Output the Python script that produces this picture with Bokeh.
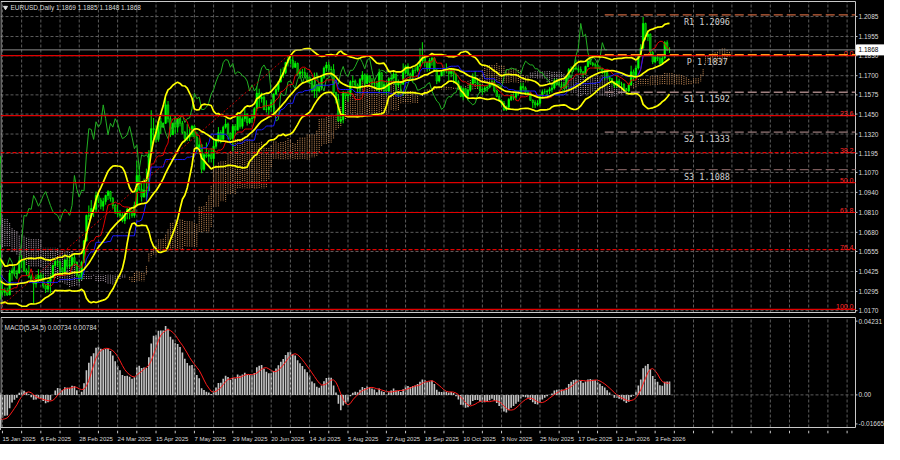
import numpy as np
import pandas as pd
from bokeh.plotting import figure
from bokeh.layouts import column
from bokeh.models import Range1d, ColumnDataSource
from bokeh.core.properties import value
from bokeh.embed import file_html
from bokeh.resources import INLINE

# ---------------- data ----------------
# warm-up bars before the first visible bar (25 Sep 2024 .. 14 Jan 2025)
pre_close = [1.1135, 1.1175, 1.1165, 1.1135, 1.1070, 1.1045, 1.1030, 1.0975,
             1.0975, 1.0980, 1.0940, 1.0935, 1.0935, 1.0910, 1.0890, 1.0860, 1.0830, 1.0865,
             1.0815, 1.0795, 1.0780, 1.0825, 1.0795, 1.0815, 1.0815, 1.0855, 1.0885,
             1.0835, 1.0880, 1.0930, 1.0730, 1.0800, 1.0720, 1.0655, 1.0625, 1.0565, 1.0530, 1.0540,
             1.0595, 1.0595, 1.0545, 1.0470, 1.0420, 1.0495, 1.0490, 1.0565, 1.0555, 1.0575,
             1.0495, 1.0510, 1.0510, 1.0585, 1.0565, 1.0555, 1.0525, 1.0495, 1.0465, 1.0500,
             1.0510, 1.0490, 1.0350, 1.0365, 1.0430, 1.0405, 1.0395, 1.0420, 1.0425,
             1.0405, 1.0355, 1.0265, 1.0305, 1.0390, 1.0345, 1.0320, 1.0300, 1.0245, 1.0245, 1.0305]
pre_high = [1.1215, 1.1190, 1.1200, 1.1210, 1.1145, 1.1085, 1.1055, 1.1045,
            1.0985, 1.0995, 1.0985, 1.0960, 1.0955, 1.0945, 1.0915, 1.0900, 1.0870, 1.0870,
            1.0865, 1.0825, 1.0800, 1.0830, 1.0835, 1.0825, 1.0830, 1.0870, 1.0890,
            1.0905, 1.0905, 1.0935, 1.0935, 1.0805, 1.0805, 1.0725, 1.0665, 1.0650, 1.0580, 1.0560,
            1.0610, 1.0630, 1.0610, 1.0545, 1.0495, 1.0535, 1.0510, 1.0575, 1.0570, 1.0595,
            1.0555, 1.0535, 1.0545, 1.0590, 1.0630, 1.0595, 1.0565, 1.0535, 1.0520, 1.0520,
            1.0525, 1.0525, 1.0505, 1.0395, 1.0445, 1.0445, 1.0420, 1.0440, 1.0455,
            1.0445, 1.0415, 1.0365, 1.0320, 1.0435, 1.0405, 1.0355, 1.0330, 1.0325, 1.0270, 1.0315]
pre_low = [1.1125, 1.1115, 1.1135, 1.1130, 1.1045, 1.1030, 1.1005, 1.0950,
           1.0955, 1.0955, 1.0935, 1.0915, 1.0930, 1.0905, 1.0880, 1.0855, 1.0810, 1.0825,
           1.0810, 1.0790, 1.0760, 1.0775, 1.0790, 1.0790, 1.0770, 1.0810, 1.0840,
           1.0830, 1.0840, 1.0870, 1.0680, 1.0715, 1.0710, 1.0650, 1.0595, 1.0545, 1.0495, 1.0500,
           1.0520, 1.0525, 1.0540, 1.0460, 1.0335, 1.0425, 1.0445, 1.0480, 1.0540, 1.0535,
           1.0460, 1.0480, 1.0475, 1.0505, 1.0540, 1.0535, 1.0515, 1.0485, 1.0455, 1.0455,
           1.0480, 1.0475, 1.0345, 1.0345, 1.0345, 1.0395, 1.0385, 1.0380, 1.0395,
           1.0385, 1.0345, 1.0225, 1.0245, 1.0305, 1.0335, 1.0290, 1.0285, 1.0215, 1.0178, 1.0235]

# visible daily bars, 15 Jan 2025 .. 11 Feb 2026
close = [1.0290, 1.0300, 1.0272,
         1.0415, 1.0430, 1.0410, 1.0415, 1.0495,
         1.0490, 1.0430, 1.0420, 1.0390, 1.0360,
         1.0345, 1.0380, 1.0400, 1.0380, 1.0330,
         1.0310, 1.0360, 1.0385, 1.0465, 1.0490,
         1.0485, 1.0445, 1.0425, 1.0500, 1.0460,
         1.0465, 1.0515, 1.0485, 1.0400, 1.0375,
         1.0485, 1.0625, 1.0790, 1.0785, 1.0835,
         1.0830, 1.0920, 1.0890, 1.0850, 1.0880,
         1.0920, 1.0945, 1.0900, 1.0855, 1.0815,
         1.0800, 1.0790, 1.0755, 1.0800, 1.0830,
         1.0815, 1.0790, 1.0855, 1.1050, 1.0960,
         1.0910, 1.0955, 1.0950, 1.1190, 1.1355,
         1.1350, 1.1285, 1.1400, 1.1365, 1.1390,
         1.1510, 1.1420, 1.1315, 1.1390, 1.1365,
         1.1420, 1.1390, 1.1330, 1.1290, 1.1300,
         1.1315, 1.1370, 1.1300, 1.1225, 1.1250,
         1.1090, 1.1185, 1.1175, 1.1185, 1.1160,
         1.1240, 1.1285, 1.1330, 1.1285, 1.1365,
         1.1385, 1.1325, 1.1290, 1.1370, 1.1345,
         1.1440, 1.1370, 1.1420, 1.1445, 1.1395,
         1.1420, 1.1425, 1.1485, 1.1585, 1.1550,
         1.1560, 1.1480, 1.1480, 1.1495, 1.1525,
         1.1580, 1.1610, 1.1660, 1.1700, 1.1720,
         1.1785, 1.1805, 1.1800, 1.1755, 1.1780,
         1.1710, 1.1725, 1.1720, 1.1700, 1.1690,
         1.1665, 1.1600, 1.1640, 1.1600, 1.1625,
         1.1690, 1.1750, 1.1770, 1.1740, 1.1740,
         1.1590, 1.1545, 1.1405, 1.1415, 1.1590,
         1.1570, 1.1575, 1.1660, 1.1665, 1.1640,
         1.1615, 1.1675, 1.1705, 1.1650, 1.1700,
         1.1660, 1.1650, 1.1650, 1.1610, 1.1720,
         1.1620, 1.1640, 1.1600, 1.1680, 1.1685,
         1.1710, 1.1640, 1.1660, 1.1645, 1.1720,
         1.1760, 1.1710, 1.1695, 1.1735, 1.1735,
         1.1760, 1.1795, 1.1815, 1.1785, 1.1745,
         1.1800, 1.1815, 1.1735, 1.1665, 1.1700,
         1.1725, 1.1735, 1.1730, 1.1715, 1.1740,
         1.1710, 1.1660, 1.1630, 1.1565, 1.1615,
         1.1570, 1.1605, 1.1645, 1.1690, 1.1655,
         1.1645, 1.1605, 1.1610, 1.1620, 1.1625,
         1.1645, 1.1655, 1.1600, 1.1565, 1.1535,
         1.1520, 1.1480, 1.1495, 1.1545, 1.1565,
         1.1560, 1.1585, 1.1590, 1.1630, 1.1620,
         1.1590, 1.1580, 1.1540, 1.1525, 1.1510,
         1.1520, 1.1570, 1.1595, 1.1595, 1.1600,
         1.1610, 1.1620, 1.1665, 1.1645, 1.1640,
         1.1640, 1.1625, 1.1690, 1.1740, 1.1740,
         1.1750, 1.1745, 1.1740, 1.1725, 1.1710,
         1.1760, 1.1795, 1.1780, 1.1770,
         1.1770, 1.1745, 1.1745, 1.1720,
         1.1720, 1.1690, 1.1680, 1.1655, 1.1635,
         1.1665, 1.1645, 1.1645, 1.1610, 1.1600,
         1.1640, 1.1725, 1.1685, 1.1750, 1.1830,
         1.1880, 1.2040, 1.1955, 1.1970, 1.1850,
         1.1790, 1.1820, 1.1810, 1.1780, 1.1815,
         1.1915, 1.1869, 1.1868]
high = [1.0353, 1.0320, 1.0320,
        1.0435, 1.0445, 1.0460, 1.0435, 1.0520,
        1.0530, 1.0500, 1.0445, 1.0465, 1.0405,
        1.0360, 1.0405, 1.0440, 1.0420, 1.0410,
        1.0345, 1.0370, 1.0405, 1.0470, 1.0515,
        1.0505, 1.0495, 1.0455, 1.0505, 1.0530,
        1.0530, 1.0525, 1.0545, 1.0490, 1.0405,
        1.0495, 1.0630, 1.0795, 1.0855, 1.0890,
        1.0845, 1.0945, 1.0945, 1.0905, 1.0905,
        1.0925, 1.0955, 1.0950, 1.0910, 1.0865,
        1.0860, 1.0825, 1.0805, 1.0815, 1.0840,
        1.0845, 1.0820, 1.0880, 1.1145, 1.1110,
        1.1000, 1.1030, 1.1095, 1.1215, 1.1475,
        1.1425, 1.1375, 1.1405, 1.1425, 1.1395,
        1.1573, 1.1535, 1.1445, 1.1395, 1.1400,
        1.1425, 1.1425, 1.1405, 1.1340, 1.1385,
        1.1365, 1.1380, 1.1380, 1.1335, 1.1295,
        1.1255, 1.1195, 1.1265, 1.1215, 1.1230,
        1.1285, 1.1290, 1.1365, 1.1345, 1.1375,
        1.1420, 1.1395, 1.1330, 1.1385, 1.1385,
        1.1455, 1.1450, 1.1435, 1.1495, 1.1455,
        1.1425, 1.1450, 1.1495, 1.1630, 1.1615,
        1.1590, 1.1580, 1.1540, 1.1505, 1.1545,
        1.1585, 1.1640, 1.1665, 1.1745, 1.1755,
        1.1790, 1.1830, 1.1830, 1.1830, 1.1795,
        1.1785, 1.1740, 1.1745, 1.1750, 1.1720,
        1.1690, 1.1680, 1.1720, 1.1645, 1.1655,
        1.1695, 1.1760, 1.1790, 1.1790, 1.1760,
        1.1775, 1.1595, 1.1580, 1.1450, 1.1600,
        1.1595, 1.1600, 1.1670, 1.1700, 1.1675,
        1.1650, 1.1685, 1.1730, 1.1715, 1.1715,
        1.1700, 1.1685, 1.1675, 1.1665, 1.1745,
        1.1720, 1.1665, 1.1660, 1.1690, 1.1700,
        1.1725, 1.1715, 1.1675, 1.1665, 1.1780,
        1.1770, 1.1780, 1.1720, 1.1750, 1.1755,
        1.1770, 1.1878, 1.1918, 1.1820, 1.1790,
        1.1815, 1.1820, 1.1820, 1.1745, 1.1705,
        1.1735, 1.1755, 1.1780, 1.1740, 1.1750,
        1.1745, 1.1715, 1.1670, 1.1635, 1.1625,
        1.1620, 1.1615, 1.1655, 1.1715, 1.1730,
        1.1670, 1.1645, 1.1625, 1.1635, 1.1640,
        1.1660, 1.1670, 1.1670, 1.1610, 1.1580,
        1.1545, 1.1535, 1.1505, 1.1555, 1.1580,
        1.1585, 1.1600, 1.1600, 1.1655, 1.1655,
        1.1630, 1.1605, 1.1595, 1.1545, 1.1540,
        1.1540, 1.1580, 1.1610, 1.1615, 1.1610,
        1.1625, 1.1635, 1.1680, 1.1680, 1.1670,
        1.1660, 1.1655, 1.1700, 1.1750, 1.1760,
        1.1765, 1.1805, 1.1760, 1.1760, 1.1730,
        1.1765, 1.1805, 1.1810, 1.1790,
        1.1785, 1.1780, 1.1765, 1.1750,
        1.1740, 1.1745, 1.1700, 1.1685, 1.1665,
        1.1700, 1.1680, 1.1660, 1.1650, 1.1620,
        1.1650, 1.1765, 1.1740, 1.1765, 1.1835,
        1.1905, 1.2082, 1.2045, 1.1995, 1.1975,
        1.1860, 1.1830, 1.1835, 1.1825, 1.1830,
        1.1925, 1.1930, 1.1885]
low = [1.0270, 1.0265, 1.0266,
       1.0270, 1.0365, 1.0395, 1.0380, 1.0410,
       1.0445, 1.0420, 1.0400, 1.0380, 1.0355,
       1.0215, 1.0320, 1.0355, 1.0365, 1.0315,
       1.0285, 1.0290, 1.0285, 1.0385, 1.0455,
       1.0455, 1.0410, 1.0400, 1.0420, 1.0445,
       1.0445, 1.0455, 1.0470, 1.0390, 1.0360,
       1.0380, 1.0480, 1.0620, 1.0760, 1.0770,
       1.0780, 1.0810, 1.0870, 1.0830, 1.0820,
       1.0860, 1.0890, 1.0880, 1.0835, 1.0800,
       1.0780, 1.0775, 1.0745, 1.0735, 1.0765,
       1.0765, 1.0775, 1.0775, 1.0850, 1.0950,
       1.0880, 1.0905, 1.0890, 1.0950, 1.1190,
       1.1265, 1.1265, 1.1270, 1.1320, 1.1360,
       1.1385, 1.1395, 1.1300, 1.1320, 1.1320,
       1.1330, 1.1370, 1.1320, 1.1265, 1.1275,
       1.1275, 1.1300, 1.1290, 1.1200, 1.1220,
       1.1065, 1.1080, 1.1165, 1.1135, 1.1135,
       1.1115, 1.1225, 1.1265, 1.1260, 1.1290,
       1.1355, 1.1285, 1.1280, 1.1210, 1.1310,
       1.1345, 1.1355, 1.1355, 1.1400, 1.1375,
       1.1385, 1.1390, 1.1405, 1.1470, 1.1490,
       1.1525, 1.1475, 1.1460, 1.1445, 1.1465,
       1.1455, 1.1575, 1.1595, 1.1655, 1.1685,
       1.1710, 1.1760, 1.1775, 1.1745, 1.1750,
       1.1700, 1.1680, 1.1685, 1.1690, 1.1655,
       1.1650, 1.1590, 1.1555, 1.1555, 1.1590,
       1.1605, 1.1680, 1.1725, 1.1725, 1.1710,
       1.1585, 1.1520, 1.1400, 1.1390, 1.1390,
       1.1545, 1.1530, 1.1565, 1.1630, 1.1620,
       1.1590, 1.1585, 1.1665, 1.1630, 1.1645,
       1.1655, 1.1630, 1.1620, 1.1600, 1.1590,
       1.1610, 1.1585, 1.1575, 1.1595, 1.1655,
       1.1680, 1.1605, 1.1625, 1.1610, 1.1640,
       1.1710, 1.1700, 1.1680, 1.1660, 1.1715,
       1.1725, 1.1760, 1.1780, 1.1760, 1.1725,
       1.1730, 1.1765, 1.1730, 1.1645, 1.1655,
       1.1695, 1.1700, 1.1715, 1.1670, 1.1690,
       1.1650, 1.1650, 1.1610, 1.1560, 1.1540,
       1.1560, 1.1540, 1.1595, 1.1640, 1.1650,
       1.1620, 1.1595, 1.1575, 1.1590, 1.1595,
       1.1620, 1.1630, 1.1590, 1.1560, 1.1530,
       1.1505, 1.1470, 1.1470, 1.1480, 1.1535,
       1.1540, 1.1540, 1.1570, 1.1580, 1.1600,
       1.1575, 1.1570, 1.1535, 1.1490, 1.1490,
       1.1500, 1.1505, 1.1560, 1.1580, 1.1570,
       1.1580, 1.1590, 1.1610, 1.1635, 1.1630,
       1.1615, 1.1615, 1.1615, 1.1680, 1.1720,
       1.1725, 1.1735, 1.1720, 1.1710, 1.1690,
       1.1705, 1.1755, 1.1770, 1.1760,
       1.1745, 1.1735, 1.1735, 1.1710,
       1.1670, 1.1680, 1.1665, 1.1645, 1.1620,
       1.1620, 1.1640, 1.1620, 1.1600, 1.1578,
       1.1590, 1.1635, 1.1665, 1.1680, 1.1740,
       1.1820, 1.1875, 1.1930, 1.1925, 1.1840,
       1.1775, 1.1780, 1.1795, 1.1765, 1.1770,
       1.1805, 1.1860, 1.1848]

date_labels = ["15 Jan 2025", "6 Feb 2025", "28 Feb 2025", "24 Mar 2025", "15 Apr 2025",
               "7 May 2025", "29 May 2025", "20 Jun 2025", "14 Jul 2025", "5 Aug 2025",
               "27 Aug 2025", "18 Sep 2025", "10 Oct 2025", "3 Nov 2025", "25 Nov 2025",
               "17 Dec 2025", "12 Jan 2026", "3 Feb 2026"]
date_label_bars = [0, 16, 32, 48, 64, 80, 96, 112, 128, 144, 160, 176, 192, 208, 224, 240, 256, 272]

price_ticks = [1.2085, 1.1955, 1.1830, 1.1700, 1.1575, 1.1450, 1.1320, 1.1195,
               1.1070, 1.0940, 1.0810, 1.0680, 1.0555, 1.0425, 1.0295, 1.0170]
macd_ticks = [0.04231, 0.0, -0.01665]
macd_tick_labels = ["0.04231", "0.00", "-0.01665"]

fib_ratios = [0.0, 23.6, 38.2, 50.0, 61.8, 76.4, 100.0]
fib_texts = ["0.0", "23.6", "38.2", "50.0", "61.8", "76.4", "100.0"]
fib_dashes = ["solid", "solid", "4 2", "solid", "solid", "4 2", "solid"]
fib_high, fib_high_bar = 1.1830, 119
fib_low, fib_low_bar = 1.0178, -2

pivot_names = ["R1", "P", "S1", "S2", "S3"]
pivot_values = [1.2096, 1.1837, 1.1592, 1.1333, 1.1088]
pivot_colors = ["#c8643c", "#ff9a1e", "#a08080", "#967878", "#7a5a5a"]
pivot_start_bar = 251
pivot_label_bar = 284

last_price = 1.1868
header_text = "EURUSD,Daily  1.1869 1.1885 1.1848 1.1868"
macd_text = "MACD(5,34,5) 0.00734 0.00784"

# ---------------- derived series ----------------
n_pre = len(pre_close)
C = np.array(pre_close + close)
H = np.array(pre_high + high)
L = np.array(pre_low + low)
O = np.r_[C[0], C[:-1]]          # FX daily open = previous close
H = np.maximum(H, np.maximum(O, C))
L = np.minimum(L, np.minimum(O, C))
idx = np.arange(len(C)) - n_pre

sC, sH, sL = pd.Series(C), pd.Series(H), pd.Series(L)
bb_mid = sC.rolling(20).mean()
bb_sd = sC.rolling(20).std(ddof=0)
bb_up = bb_mid + 2 * bb_sd
bb_lo = bb_mid - 2 * bb_sd
tenkan = (sH.rolling(9).max() + sL.rolling(9).min()) / 2
kijun = (sH.rolling(26).max() + sL.rolling(26).min()) / 2
span_a = (tenkan + kijun) / 2
span_b = (sH.rolling(52).max() + sL.rolling(52).min()) / 2
ema_fast = sC.ewm(span=5, adjust=False).mean()
ema_slow = sC.ewm(span=34, adjust=False).mean()
macd = ema_fast - ema_slow
signal = macd.rolling(5).mean()

# ---------------- layout constants ----------------
W = 884
RB = 29                      # px reserved right of the chart box for price labels
FW = W - RB                  # px width of the chart box
X0, X1 = -0.81, 355.5        # bar range of the chart box
ppx = FW / (X1 - X0)
XR = X0 + W / ppx            # right edge of the canvas in bar units

MAIN_H, MAIN_TOP, MAIN_BOT = 315, 1, 3
PT, PB = 1.2183, 1.0158      # prices at box top / bottom
ppy = (MAIN_H - MAIN_TOP - MAIN_BOT) / (PT - PB)

MACD_H, MACD_TOP, MACD_BOT = 115, 2, 3
MT, MB = 0.0444, -0.0187
ppm = (MACD_H - MACD_TOP - MACD_BOT) / (MT - MB)

BG = "#000000"
GRID = "#5c5c5c"
FRAME = "#c8c8c8"
TXT = "#dcdcdc"
FONT = "Liberation Sans"
SMALL = "6.5px"

xr = Range1d(X0, XR)
grid_bars = list(range(0, 356, 8))


def panel(height, y0, y1):
    f = figure(width=W, height=height, x_range=xr, y_range=Range1d(y0, y1),
               output_backend="svg", toolbar_location=None,
               x_axis_location=None, y_axis_location=None,
               min_border_left=0, min_border_right=0, min_border_top=0, min_border_bottom=0,
               background_fill_color=BG, border_fill_color=BG, outline_line_color=None)
    f.grid.visible = False
    return f


def frame_box(f, top, bottom, ticks, labels):
    f.segment(x0=grid_bars, y0=[bottom] * len(grid_bars), x1=grid_bars, y1=[top] * len(grid_bars),
              line_color=GRID, line_dash="3 2", line_width=1)
    f.quad(left=[X0 + 0.5 / ppx], right=[X1], top=[top], bottom=[bottom],
           fill_color=None, line_color=FRAME, line_width=1)
    f.segment(x0=[X1] * len(ticks), y0=ticks, x1=[X1 + 2 / ppx] * len(ticks), y1=ticks,
              line_color=FRAME, line_width=1)
    f.text(x=[X1 + 3 / ppx] * len(ticks), y=ticks, text=labels, text_baseline="middle",
           text_align="left", text_color=TXT, text_font=value(FONT), text_font_size=SMALL)


# ---------------- main price panel ----------------
p = panel(MAIN_H, PB - MAIN_BOT / ppy, PT + MAIN_TOP / ppy)
p.segment(x0=[X0] * len(price_ticks), y0=price_ticks, x1=[X1] * len(price_ticks), y1=price_ticks,
          line_color=GRID, line_dash="3 2", line_width=1)
frame_box(p, PT, PB, price_ticks, [f"{t:.4f}" for t in price_ticks])

# Ichimoku cloud (dotted vertical hatching, 26 bars ahead)
cloud = pd.DataFrame({"x": idx + 26, "a": span_a, "b": span_b}).dropna()
cloud["c"] = np.where(cloud["a"] >= cloud["b"], "#f0a868", "#d8c4d8")
p.segment(x0="x", y0="a", x1="x", y1="b", source=ColumnDataSource(cloud),
          line_color="c", line_dash="1 1", line_width=1, line_alpha=0.85)

# candles
up = C >= O
cs = ColumnDataSource(dict(x=idx, h=H, l=L, top=np.maximum(O, C), bot=np.minimum(O, C),
                           fill=np.where(up, "#00ff00", "#0b7d0b")))
p.segment(x0="x", y0="l", x1="x", y1="h", source=cs, line_color="#00e600", line_width=1)
p.vbar(x="x", top="top", bottom="bot", width=0.62, source=cs,
       fill_color="fill", line_color="#00ff00", line_width=0.6)

# Chikou span, Tenkan, Kijun
p.line(idx - 26, C, line_color="#22b022", line_width=1)
p.line(idx, tenkan, line_color="#e00000", line_width=1)
p.line(idx, kijun, line_color="#1a1aff", line_width=1)
# Bollinger bands
for s in (bb_up, bb_mid, bb_lo):
    p.line(idx, s, line_color="#ffff00", line_width=1.7)

# Fibonacci retracement
fib_prices = [fib_high - (fib_high - fib_low) * r / 100.0 for r in fib_ratios]
for fp, dash in zip(fib_prices, fib_dashes):
    p.segment(x0=[X0], y0=[fp], x1=[X1], y1=[fp], line_color="#e00000",
              line_width=1.2, line_dash=dash)
p.line([fib_low_bar, fib_high_bar], [fib_low, fib_high], line_color="#c00000",
       line_dash="2 2", line_width=1)
p.text(x=[X1 - 2 / ppx] * len(fib_prices), y=fib_prices, text=fib_texts,
       text_align="right", text_baseline="bottom", text_color="#ff2a2a",
       text_font=value(FONT), text_font_size="7px")

# current price line
p.segment(x0=[X0], y0=[last_price], x1=[X1], y1=[last_price], line_color="#8a8a8a", line_width=1)

# pivot levels
for v, col in zip(pivot_values, pivot_colors):
    p.segment(x0=[pivot_start_bar], y0=[v], x1=[X1], y1=[v], line_color=col,
              line_dash="9 4", line_width=1.3)
p.text(x=[pivot_label_bar + (1.2 if n == "P" else 0) for n in pivot_names], y=pivot_values,
       text=[f"{n} {v:.4f}" for n, v in zip(pivot_names, pivot_values)],
       text_align="left", text_baseline="top", y_offset=2,
       text_color="#d0d0d0", text_font=value("DejaVu Sans Mono"), text_font_size="8.5px")

# header
p.scatter(x=[X0 + 5 / ppx], y=[PT - 6 / ppy], marker="inverted_triangle", size=4,
          fill_color=TXT, line_color=TXT)
p.text(x=[X0 + 10 / ppx], y=[PT - 6 / ppy], text=[header_text], text_baseline="middle",
       text_color=TXT, text_font=value(FONT), text_font_size=SMALL)

# current price box on the scale
p.quad(left=[X1 + 1 / ppx], right=[XR], top=[last_price + 5 / ppy], bottom=[last_price - 5 / ppy],
       fill_color="#ffffff", line_color="#ffffff")
p.text(x=[X1 + 3 / ppx], y=[last_price], text=[f"{last_price:.4f}"], text_baseline="middle",
       text_color="#000000", text_font=value(FONT), text_font_size=SMALL)

# ---------------- MACD panel ----------------
m = panel(MACD_H, MB - MACD_BOT / ppm, MT + MACD_TOP / ppm)
m.segment(x0=[X0], y0=[0.0], x1=[X1], y1=[0.0], line_color=GRID, line_dash="3 2", line_width=1)
m.vbar(x=idx, top=macd, bottom=0, width=0.68, fill_color="#c4c4c4", line_color=None)
m.line(idx, signal, line_color="#ff1a1a", line_width=1)
frame_box(m, MT, MB, macd_ticks, macd_tick_labels)
m.text(x=[X0 + 4 / ppx], y=[MT - 10 / ppm], text=[macd_text], text_baseline="middle",
       text_color=TXT, text_font=value(FONT), text_font_size=SMALL)

# ---------------- date strip ----------------
d = panel(14, 0, 1)
d.segment(x0=grid_bars, y0=[1] * len(grid_bars), x1=grid_bars, y1=[0.8] * len(grid_bars),
          line_color=FRAME, line_width=1)
d.text(x=date_label_bars, y=[0.42] * len(date_label_bars), text=date_labels,
       text_align="left", text_baseline="middle", text_color=TXT,
       text_font=value(FONT), text_font_size="6px")

layout = column(p, m, d, spacing=0, styles={"background-color": "#000000"})
html = file_html(layout, INLINE, title="EURUSD Daily")
html = html.replace("<body>", '<body style="background-color:#000000;">', 1)
open("out.html", "w").write(html)
